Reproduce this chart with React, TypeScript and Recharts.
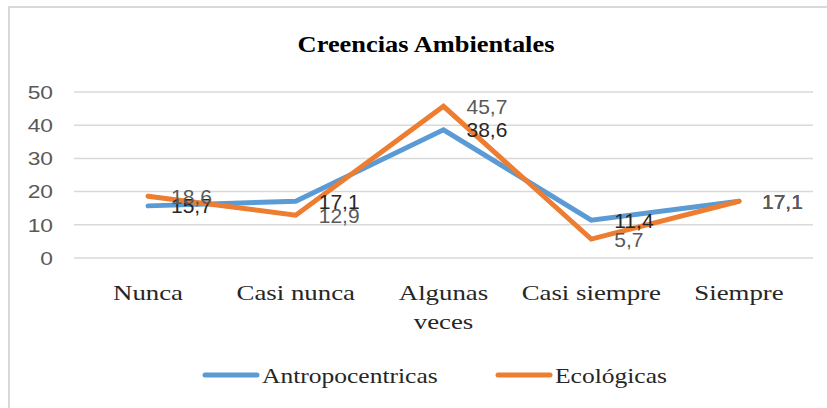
import { LineChart, Line, XAxis, YAxis, CartesianGrid, LabelList } from 'recharts';

const categories = ['Nunca', 'Casi nunca', 'Algunas veces', 'Casi siempre', 'Siempre'];
const antropocentricas = [15.7, 17.1, 38.6, 11.4, 17.1];
const ecologicas = [18.6, 12.9, 45.7, 5.7, 17.1];
const yTicks = [0, 10, 20, 30, 40, 50];

const data = categories.map((name, i) => ({
  name,
  antro: antropocentricas[i],
  eco: ecologicas[i],
}));

const BLUE = '#5B9BD5';
const ORANGE = '#ED7D31';
const sans = '"Liberation Sans", Arial, sans-serif';
const serif = '"Liberation Serif", "Times New Roman", serif';
const SX = 1.22; // the source picture is stretched sideways

const fmt = (v: number) => String(v).replace('.', ',');

function makeLabel(color: string) {
  return (props: any) => {
    const { x, y, value } = props;
    return (
      <text x={x + 23} y={y} dy="0.36em" fill={color} fontSize={21} fontFamily={sans}>
        {fmt(value)}
      </text>
    );
  };
}

function CategoryTick(props: any) {
  const { x, y, payload } = props;
  const words: string[] = payload.value === 'Algunas veces' ? ['Algunas', 'veces'] : [payload.value];
  return (
    <text
      transform={`translate(${x},${y + 42}) scale(${SX},1)`}
      textAnchor="middle"
      fill="#262626"
      fontSize={22}
      fontFamily={serif}
    >
      {words.map((w, i) => (
        <tspan key={i} x={0} y={i * 29}>
          {w}
        </tspan>
      ))}
    </text>
  );
}

function ValueTick(props: any) {
  const { x, y, payload } = props;
  return (
    <text
      transform={`translate(${x},${y}) scale(1.2,1)`}
      textAnchor="end"
      dy="0.36em"
      fill="#595959"
      fontSize={19}
      fontFamily={sans}
    >
      {payload.value}
    </text>
  );
}

const legendItems = [
  { label: 'Antropocentricas', color: BLUE, x: 203 },
  { label: 'Ecológicas', color: ORANGE, x: 496 },
];

export default function App() {
  return (
    <div style={{ position: 'absolute', left: 0, top: 0, width: 827, height: 408, background: '#fff', overflow: 'hidden' }}>
      <div style={{ position: 'absolute', left: 8, top: 6, width: 830, height: 410, border: '2px solid #D9D9D9' }} />
      <svg width={827} height={408} style={{ position: 'absolute', left: 0, top: 0 }}>
        <text
          transform={`translate(426,52) scale(1.1,1)`}
          textAnchor="middle"
          fontFamily={serif}
          fontWeight="bold"
          fontSize={24}
          fill="#000"
        >
          Creencias Ambientales
        </text>
        {legendItems.map((it) => (
          <g key={it.label}>
            <line x1={it.x + 2} x2={it.x + 54} y1={375} y2={375} stroke={it.color} strokeWidth={5} strokeLinecap="round" />
            <text
              transform={`translate(${it.x + 59},383) scale(1.16,1)`}
              fontFamily={serif}
              fontSize={22}
              fill="#262626"
            >
              {it.label}
            </text>
          </g>
        ))}
      </svg>
      <div style={{ position: 'absolute', left: 0, top: 0 }}>
        <LineChart width={827} height={408} data={data} margin={{ top: 92, right: 14, bottom: 0, left: 0 }}>
          <CartesianGrid vertical={false} stroke="#D9D9D9" strokeWidth={1.5} />
          <XAxis
            dataKey="name"
            axisLine={false}
            tickLine={false}
            tickSize={0}
            tickMargin={0}
            height={150}
            interval={0}
            padding={{ left: 74, right: 74 }}
            tick={<CategoryTick />}
          />
          <YAxis
            domain={[0, 50]}
            ticks={yTicks}
            axisLine={false}
            tickLine={false}
            tickSize={0}
            tickMargin={21}
            width={74}
            tick={<ValueTick />}
          />
          <Line
            type="linear"
            dataKey="antro"
            name="Antropocentricas"
            stroke={BLUE}
            strokeWidth={5}
            strokeLinecap="round"
            dot={false}
            isAnimationActive={false}
          >
            <LabelList dataKey="antro" content={makeLabel('#262626')} />
          </Line>
          <Line
            type="linear"
            dataKey="eco"
            name="Ecológicas"
            stroke={ORANGE}
            strokeWidth={5}
            strokeLinecap="round"
            dot={false}
            isAnimationActive={false}
          >
            <LabelList dataKey="eco" content={makeLabel('#595959')} />
          </Line>
        </LineChart>
      </div>
    </div>
  );
}
